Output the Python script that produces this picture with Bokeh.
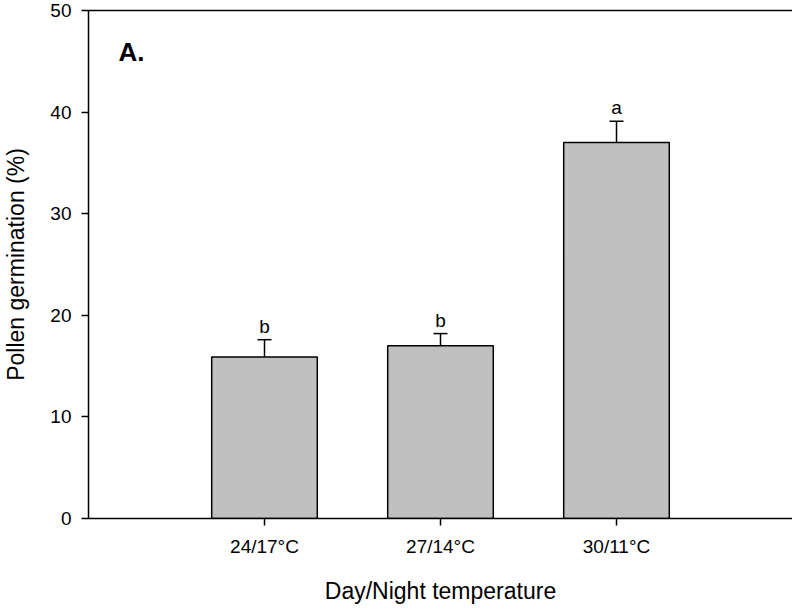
from bokeh.plotting import figure
from bokeh.models import Range1d, FixedTicker, LinearAxis, Whisker, ColumnDataSource, Label, TeeHead
from bokeh.core.properties import value
from bokeh.embed import file_html
from bokeh.resources import INLINE

categories = ["24/17°C", "27/14°C", "30/11°C"]
germination = [15.9, 17.0, 37.0]
error = [1.7, 1.2, 2.1]
letters = ["b", "b", "a"]
y_ticks = [0, 10, 20, 30, 40, 50]
panel_label = "A."
x_title = "Day/Night temperature"
y_title = "Pollen germination (%)"

FONT = "Liberation Sans"

xs = list(range(1, len(categories) + 1))
upper = [g + e for g, e in zip(germination, error)]
src = ColumnDataSource(dict(x=xs, top=germination, upper=upper, letter=letters))

p = figure(width=792, height=606, output_backend="svg", toolbar_location=None,
           x_range=Range1d(0, len(categories) + 1), y_range=Range1d(y_ticks[0], y_ticks[-1]),
           min_border_left=86, min_border_right=0, min_border_top=10, min_border_bottom=87)
p.outline_line_color = None
p.grid.visible = False
p.background_fill_color = "white"
p.border_fill_color = "white"

p.vbar(x="x", top="top", bottom=0, width=0.6, fill_color="#C0C0C0",
       line_color="black", line_width=1.5, source=src)

w = Whisker(base="x", lower="top", upper="upper", source=src,
            upper_head=TeeHead(size=14, line_width=1.5, line_color="black"),
            lower_head=None, line_width=1.5, line_color="black")
p.add_layout(w)

p.text(x="x", y="upper", text="letter", text_align="center", text_baseline="bottom",
       y_offset=-3, text_font=value(FONT), text_font_size="19px", text_color="black",
       source=src)

p.add_layout(Label(x=0.17, y=44.4, text=panel_label, text_font=FONT, text_font_style="bold",
                   text_font_size="26px", text_baseline="bottom", text_color="black"))

xa = p.xaxis[0]
xa.ticker = FixedTicker(ticks=xs)
xa.major_label_overrides = {x: c for x, c in zip(xs, categories)}
ya = p.yaxis[0]
ya.ticker = FixedTicker(ticks=y_ticks)
xa.axis_label = x_title
ya.axis_label = y_title
for ax in (xa, ya):
    ax.axis_line_width = 1.5
    ax.axis_line_color = "black"
    ax.major_tick_line_width = 1.5
    ax.major_tick_line_color = "black"
    ax.major_tick_out = 7
    ax.major_tick_in = 0
    ax.minor_tick_line_color = None
    ax.major_label_text_font = FONT
    ax.major_label_text_font_size = "19px"
    ax.major_label_text_color = "black"
    ax.axis_label_text_font = FONT
    ax.axis_label_text_font_size = "23px"
    ax.axis_label_text_font_style = "normal"
    ax.axis_label_text_color = "black"
xa.major_label_standoff = 10
xa.axis_label_standoff = 18
ya.major_label_standoff = 10
ya.axis_label_standoff = 18

top = LinearAxis(ticker=FixedTicker(ticks=[]), major_label_text_font_size="0px",
                 major_tick_line_color=None, minor_tick_line_color=None,
                 axis_line_width=1.5, axis_line_color="black",
                 major_tick_out=0, major_label_standoff=0)
p.add_layout(top, "above")

open("out.html", "w").write(file_html(p, INLINE))
